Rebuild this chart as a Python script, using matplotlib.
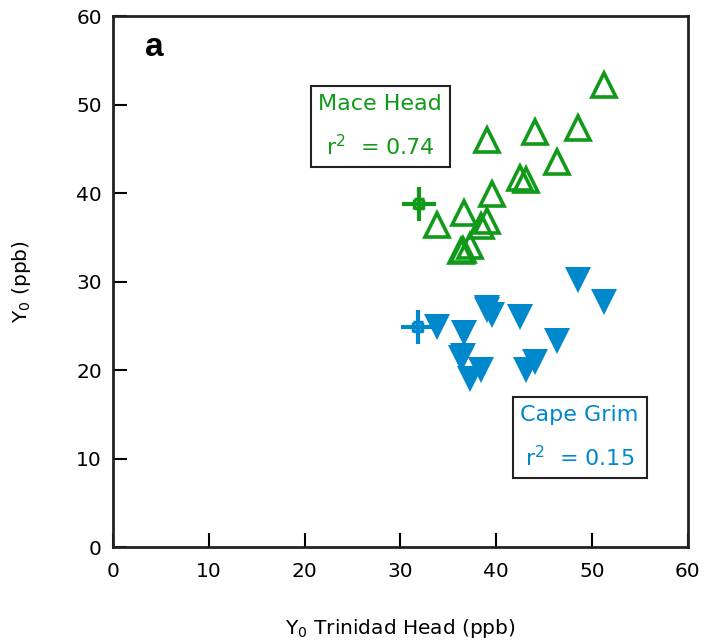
import matplotlib

matplotlib.use("Agg")
import matplotlib.pyplot as plt

GREEN = "#11991a"
BLUE = "#0088cc"

# Trinidad Head Y0 (ppb), shared by both stations
trinidad = [51.2, 48.5, 46.3, 44.0, 43.1, 42.5, 39.6, 39.0, 39.0,
            38.4, 37.3, 36.6, 36.5, 36.3, 33.8]
mace_head = [52.2, 47.3, 43.5, 46.9, 41.5, 41.7, 39.9, 46.0, 36.8,
             36.3, 34.0, 37.7, 33.6, 33.5, 36.4]
cape_grim = [27.7, 30.2, 23.3, 20.9, 20.0, 26.0, 26.2, 26.8, 27.0,
             20.0, 19.0, 24.2, 21.6, 21.4, 24.9]

# mean points
mean_x = [31.9, 31.8]
mean_y = [38.8, 24.9]

fig = plt.figure(figsize=(7.04, 6.44), dpi=100)
ax = fig.add_axes([0.1605, 0.1506, 0.8165, 0.8244])

ax.plot(trinidad, mace_head, linestyle="none", marker="^", markersize=17,
        markerfacecolor="none", markeredgecolor=GREEN, markeredgewidth=2.6)
ax.plot(trinidad, cape_grim, linestyle="none", marker="v", markersize=19,
        color=BLUE, markeredgewidth=0)

for mx, my, c in zip(mean_x, mean_y, [GREEN, BLUE]):
    ax.errorbar(mx, my, xerr=0.5, yerr=0.5, fmt="none", ecolor=c,
                elinewidth=2.5, capsize=3.5, capthick=2.5)
    ax.plot(mx, my, marker="+", markersize=25, markeredgewidth=3, color=c)

ax.set_xlim(0, 60)
ax.set_ylim(0, 60)
ax.set_xticks(range(0, 61, 10))
ax.set_yticks(range(0, 61, 10))
ax.tick_params(direction="in", length=10, width=1.5, labelsize=14.5,
               top=False, right=False)
ax.tick_params(axis="x", pad=11)
ax.tick_params(axis="y", pad=8)
for s in ax.spines.values():
    s.set_linewidth(2)
    s.set_color("#222222")

ax.set_xlabel(r"Y$_{\mathregular{0}}$ Trinidad Head (ppb)", fontsize=14.5,
              labelpad=26)
ax.set_ylabel(r"Y$_{\mathregular{0}}$ (ppb)", fontsize=14.5, labelpad=31)

ax.text(4.3, 56.4, "a", fontsize=24, fontweight="bold",
        family="Liberation Sans", ha="center", va="center")

box = dict(boxstyle="square,pad=0.35", facecolor="white",
           edgecolor="#222222", linewidth=1.5)
ax.text(27.9, 47.5, "Mace Head\nr$^{\\mathregular{2}}$  = 0.74", fontsize=16,
        color=GREEN, ha="center", va="center", bbox=box, linespacing=1.95)
ax.text(48.7, 12.4, "Cape Grim\nr$^{\\mathregular{2}}$  = 0.15", fontsize=16,
        color=BLUE, ha="center", va="center", bbox=box, linespacing=1.95)

fig.savefig("out.png", dpi=100)
